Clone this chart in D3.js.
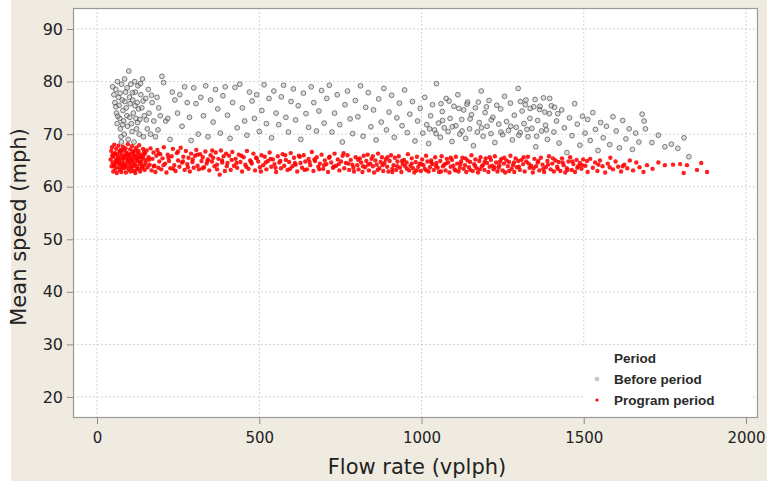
<!DOCTYPE html>
<html><head><meta charset="utf-8">
<script src="https://cdn.jsdelivr.net/npm/d3@7"></script>
<style>html,body{margin:0;padding:0;background:#fff;}svg{display:block;}</style>
</head><body>
<svg id="chart" width="776" height="481"></svg>
<script>
const xTicks = [0, 500, 1000, 1500, 2000];
const yTicks = [20, 30, 40, 50, 60, 70, 80, 90];
const seriesNames = ["Before period", "Program period"];
const legendTitle = "Period";
const xTitle = "Flow rate (vplph)";
const yTitle = "Mean speed (mph)";

// Before period: [flow, speed]
const beforePoints = [
[48,79],[52,77.5],[55,76],[58,78.5],[60,74],[62,72],[63,80],[66,77],[68,75.5],[70,73],[72,71],[74,69.5],[75,68.5],[76,79.5],[78,76.5],[80,74.5],[82,72.5],[84,70],[85,80.5],[88,78],[90,75],[92,73.5],[94,71.5],[96,69],[98,82],[100,77],[102,75.8],[104,79.5],[106,72],[108,70.5],[110,76.5],[112,74],[114,68.5],[116,80],[118,78],[120,73],[122,71],[124,76],[126,79.2],[128,74.8],[130,70],[132,72.8],[135,77.5],[138,75],[140,80.5],[143,69.5],[146,73.5],[150,76.8],[155,71],[158,78.5],[160,74],[165,70],[170,76],[175,72.5],[180,69.5],[185,77],[190,75],[195,73.5],
[58,75.2],[64,73.4],[71,77.8],[79,71.8],[86,76.2],[93,78.8],[101,73.2],[109,77.9],[117,75.4],[125,72.2],[134,79.6],[142,76.3],[152,72.7],[168,77.4],[188,70.8],
[200,81],[205,79.8],[212,72.5],[218,73],[225,69],[232,78],[240,76.5],[248,74],[255,77.5],[262,71.5],[270,79],[278,76],[285,73.2],[290,68.8],[298,78.8],[305,75.8],[312,70],[320,77],[328,73.5],[335,79.2],[342,69.5],[350,76.5],[358,72.3],[365,78.5],[372,74.8],[380,70.2],[388,77.3],[395,79],[402,73.6],[410,69.2],[418,76],[425,78.9],[432,71.2],[440,79.5],[448,75],[455,72.5],[462,69.8],[470,78],[478,76.3],[485,73],[492,77.5],[500,70.5],[508,74.5],[515,79.4],[522,72],[530,76.8],[538,69.3],[545,78.2],[552,74],[560,71.8],[568,77.1],[575,79.3],[582,73.2],[590,70.4],[598,76.2],[605,78.6],[612,72.7],[620,75.4],[628,69],[636,77.8],[644,73.9],[652,71.3],[660,79],[668,76],[676,70.6],[684,74.4],[692,78.3],[700,72.1],
[708,76.8],[716,79.3],[724,70.4],[732,74],[740,77.5],[748,71.8],[756,68.5],[764,75.6],[772,78.2],[780,72.9],[788,70.1],[796,76.4],[804,73.3],[812,79.2],[820,69.6],[828,75.1],[836,77.9],[844,71.4],[852,74.6],[860,68.9],[868,76.7],[876,72.3],[884,78.7],[892,70.8],[900,74.2],[908,77.4],[916,69.4],[924,73.1],[932,75.9],[940,71.6],[948,78.4],[956,70.3],[964,73.8],[972,76.2],[980,68.7],[988,72.5],[996,74.9],
[1004,70.2],[1010,77],[1016,71.8],[1022,68.2],[1028,73.5],[1034,75.6],[1040,70.8],[1046,79.6],[1052,72.1],[1058,69.4],[1064,74.3],[1070,71.2],[1076,76.8],[1082,70.5],[1088,73],[1094,68.6],[1100,75.3],[1106,71.6],[1112,77.5],[1118,70],[1124,72.8],[1130,74.6],[1136,69.2],[1142,76.1],[1148,71],[1154,73.7],[1160,67.8],[1166,75],[1172,70.4],[1178,72.2],[1184,78.2],[1190,69.6],[1196,74.1],[1202,71.5],[1208,76.4],[1214,70.1],[1220,73.2],[1226,68.4],[1232,75.5],[1238,71.9],[1244,74.8],[1250,69.9],[1256,77.2],[1262,72.4],[1268,70.7],[1274,75.9],[1280,68.9],[1286,73.6],[1292,71.3],[1298,78.7],[1304,70.3],[1310,74.4],[1316,72],[1322,76.5],[1328,69.5],[1334,73],[1340,71.1],[1346,75.2],[1352,67.6],[1358,72.6],[1364,74.7],[1370,70.6],[1376,76.9],[1382,71.7],[1388,69],[1394,73.9],[1400,75.4],
[1060,75.8],[1085,76.3],[1115,74.9],[1140,75.7],[1175,76.1],[1200,75.2],[1305,76.2],[1320,75.6],[1335,74.9],[1350,76.6],[1365,75.3],[1380,74.2],[1395,76.8],[1410,75.1],[1420,73.9],
[1025,71],[1045,70.1],[1065,72.6],[1095,71.4],[1125,70.6],[1150,72.9],[1185,71.2],[1215,72.7],[1245,70.4],[1275,71.5],[1300,69.8],[1325,70.9],[1355,69.6],[1385,70.8],
[1408,70.4],[1416,72.5],[1424,68.3],[1432,74.6],[1440,71.2],[1448,66.5],[1456,73.1],[1464,69.7],[1472,75.8],[1480,71.9],[1488,67.9],[1496,73.4],[1504,70.2],[1512,72.8],[1520,68.8],[1528,74.1],[1536,70.9],[1544,66.9],[1552,72.2],[1560,69.3],[1570,71.5],[1580,68],[1590,73.3],[1600,70.6],[1610,67.4],[1620,72.6],[1630,69.1],[1640,71],[1650,67.1],[1660,70.2],[1670,68.5],[1680,73.8],[1686,72.5],[1690,71],
[1710,68.4],[1730,69.8],[1750,67.6],[1770,68.1],[1790,67.3],[1809,69.3],[1824,65.7]
];

// Program period: [flow, speed]
const programPoints = [
[42,65.2],[44,66.8],[45,63.9],[46,67.5],[48,64.6],[49,66.1],[50,62.9],[51,65.7],[53,68],[54,64.2],[55,66.4],[56,63.4],[58,65],[59,67.2],[60,64.7],[61,62.6],[63,66],[64,65.4],[65,63.7],[66,67.8],[68,64.9],[69,66.6],[70,63.2],[71,65.6],[73,64.3],[74,67],[75,62.8],[76,66.2],[78,65.1],[79,63.9],[80,67.6],[81,64.5],[83,66.9],[84,63.5],[85,65.9],[86,64.1],[88,67.3],[89,62.7],[90,65.3],[91,66.5],[93,63.8],[94,64.8],[95,68.1],[96,66],[98,63.3],[99,65.5],[100,64.4],[102,67.1],[103,62.9],[104,66.3],[106,65],[107,63.6],[108,67.7],[110,64.6],[111,66.7],[113,63],[114,65.8],[115,64],[117,66.9],[118,62.6],[120,65.2],[121,67.4],[123,63.9],[124,64.9],[126,66.4],[127,63.4],[129,65.7],[130,67.9],[132,64.3],[133,62.9],[135,66.1],[137,64.7],[138,63.5],[140,65.4],[142,67.2],[144,64],[145,66.6],[147,63.2],[149,65.1],[150,64.5],
[47,65.9],[52,64],[57,66.3],[62,65.1],[67,64.4],[72,66.9],[77,63.6],[82,65.5],[87,64.2],[92,66.2],[97,64.9],[101,65.8],[105,63.9],[109,65.3],[112,66.4],[116,64.4],[119,65.9],[122,63.3],[125,65.4],[128,66.8],[131,64.8],[136,65.6],[139,63.9],[143,65.9],[148,66.3],
[153,66.9],[156,63.7],[159,65.6],[162,64.2],[165,67.3],[168,63.1],[171,65.3],[174,66.5],[177,64],[180,62.8],[183,65.9],[186,67],[189,63.6],[192,64.8],[195,66.2],[198,63.3],[202,65.4],[206,67.5],[210,64.4],[214,62.7],[218,66.1],[222,64.9],[226,63.5],[230,65.8],[234,67.2],[238,64.1],[242,63],[246,66.4],[250,65],[254,63.8],[258,67.4],[262,64.6],[266,65.7],[270,63.2],[274,66.8],[278,64.3],[282,65.5],[286,62.9],[290,66.3],[294,64.7],[298,63.6],[302,65.9],[306,67],[310,64],[314,63.3],[318,66.2],[322,64.9],[326,65.6],[330,63.7],[334,66.7],[338,64.4],[342,65.2],[346,63.1],[350,66],[354,64.8],[358,65.5],[362,63.9],[366,66.5],[370,64.2],[374,65.3],[378,62.3],[382,66.9],[386,64.6],[390,65.8],[394,63],[398,66.3],
[402,64.5],[407,65.9],[412,63.2],[417,66.6],[422,64],[427,65.3],[432,63.6],[437,66.1],[442,64.7],[447,62.9],[452,65.6],[457,64.2],[462,66.8],[467,63.4],[472,65],[477,64.4],[482,66.3],[487,63.1],[492,65.4],[497,64.8],[502,63.7],[507,66],[512,64.1],[517,65.7],[522,63.3],[527,64.9],[532,66.5],[537,63.8],[542,65.2],[547,64.3],[552,62.8],[557,65.8],[562,64.6],[567,63.5],[572,66.2],[577,64],[582,65.1],[587,63.2],[592,64.7],[597,66.4],[602,63.9],[607,65.5],[612,64.2],[617,62.9],[622,65.9],[627,64.5],[632,63.6],[637,66],[642,64.8],[647,63.3],[652,65.3],[657,64.1],[662,66.6],[667,63],[672,64.9],[677,65.6],[682,63.8],[687,64.4],[692,66.1],[697,63.4],[702,65],[707,64.3],[712,62.8],[717,65.7],[722,64.6],[727,63.6],[732,66.3],[737,64],[742,65.2],[747,63.1],[752,64.8],[757,65.9],[762,63.5],[767,64.5],[772,66],[777,63.2],[782,65.1],[787,64.2],[792,62.9],[797,65.6],
[802,64.1],[806,63.3],[810,65.4],[814,64.6],[818,62.8],[822,65.9],[826,63.7],[830,64.9],[834,66.1],[838,63.1],[842,64.4],[846,65.3],[850,63.9],[854,62.7],[858,65],[862,64.2],[866,66.3],[870,63.5],[874,64.7],[878,65.6],[882,63],[886,64.5],[890,65.2],[894,63.8],[898,62.9],[902,64.9],[906,66],[910,63.4],[914,64.1],[918,65.5],[922,63.2],[926,64.8],[930,65.8],[934,63.6],[938,62.8],[942,64.3],[946,65.1],[950,63.9],[954,64.6],[958,66.2],[962,63.1],[966,64],[970,65.4],[974,63.5],[978,62.7],[982,64.7],[986,65.7],[990,63.8],[994,64.4],[998,63],
[1002,65.2],[1006,64.1],[1010,63.4],[1014,65.9],[1018,64.8],[1022,62.9],[1026,63.7],[1030,65],[1034,64.3],[1038,63.2],[1042,65.6],[1046,64.5],[1050,63.6],[1054,62.8],[1058,64.9],[1062,65.8],[1066,63.9],[1070,64.2],[1074,63.1],[1078,65.3],[1082,64.6],[1086,62.7],[1090,63.8],[1094,65.1],[1098,64],[1102,63.3],[1106,65.7],[1110,64.4],[1114,62.9],[1118,63.6],[1122,64.8],[1126,65.5],[1130,63.4],[1134,64.1],[1138,62.8],[1142,65],[1146,63.7],[1150,64.7],[1154,66],[1158,63],[1162,64.3],[1166,65.2],[1170,63.5],[1174,62.7],[1178,64.9],[1182,65.6],[1186,63.9],[1190,64.2],[1194,63.2],[1198,65.4],[1202,64.5],[1206,62.8],[1210,63.8],[1214,65.1],[1218,64],[1222,63.3],[1226,65.8],[1230,64.6],[1234,62.9],[1238,63.6],[1242,64.8],[1246,65.3],[1250,63.1],[1254,64.4],[1258,62.7],[1262,65],[1266,63.9],[1270,64.7],[1274,65.9],[1278,63.4],[1282,64.1],[1286,62.8],[1290,65.4],[1294,63.7],[1298,64.9],
[1303,63.2],[1308,65.1],[1313,64.3],[1318,62.9],[1323,64.8],[1328,65.7],[1333,63.6],[1338,64],[1343,62.7],[1348,65.3],[1353,63.9],[1358,64.6],[1363,63.1],[1368,65.5],[1373,64.2],[1378,62.8],[1383,63.7],[1388,64.9],[1393,65.8],[1398,63.3],[1403,64.4],[1408,62.9],[1413,65],[1418,63.8],[1423,64.7],[1428,63],[1433,65.4],[1438,64.1],[1443,62.7],[1448,63.5],[1453,64.8],[1458,65.6],[1463,63.2],[1468,64.3],[1473,62.8],[1478,65.1],[1483,63.9],[1488,64.5],[1493,63.4],[1498,65.2],
[1505,64],[1512,62.8],[1520,65.3],[1528,63.6],[1535,64.6],[1542,63],[1550,65],[1558,63.9],[1566,62.7],[1574,64.4],[1582,65.5],[1590,63.3],[1598,64.8],[1606,63.8],[1615,62.9],[1625,64.2],[1634,63.5],[1642,65],[1652,63.1],[1662,64.6],[1672,63.7],[1684,62.8],[1695,64.1],
[1712,63.4],[1730,64.6],[1750,64.1],[1775,64.2],[1797,64.3],[1808,62.6],[1818,64.1],[1849,63.2],[1862,64.5],[1880,62.8],
[160,65.1],[175,63.9],[190,66.4],[205,64.1],[220,65.5],[235,63.4],[250,66.7],[265,64.8],[280,63.7],[295,65.2],[310,66.1],[325,63.5],[340,64.9],[355,66.9],[370,63.3],[385,65],[400,63.9],[415,65.1],[430,64.5],[445,65.9],[460,63.8],[475,64.7],[490,65.5],[505,62.9],[520,64.6],[535,65.3],[550,63.6],[565,64.9],[580,66],[595,63.4],[610,64.5],[625,65.7],[640,63.2],[655,64.7],[670,65.2],[685,63.3],[700,64.1],[715,65.5],[730,63.8],[745,64.3],[760,66.4],[775,64.4],[790,63.6],[805,65.1],[820,63.9],[835,64.2],[850,65.8],[865,63.2],[880,64.1],[895,65.6],[910,62.8],[925,63.9],[940,64.9],[955,63.4],[970,64.4],[985,63.1],[1000,64.3],[1015,63.1],[1030,64.6],[1045,63.9],[1060,62.9],[1075,64.4],[1090,65.5],[1105,63.1],[1120,64.3],[1135,65.4],[1150,63.2],[1165,64],[1180,63.3],[1195,64.8],[1210,65.6],[1225,63.7],[1240,64.1],[1255,65.5],[1270,63],[1285,64.6],[1300,63.8],[1315,65.6],[1330,64.4],[1345,63.5],[1360,64.9],[1375,63.4],[1390,64.2],[1405,65.4],[1420,63.4],[1435,64.6],[1450,63.2],[1465,64.8],[1480,63.6],[1495,64.1],[1510,64.9],[1545,64.2],[1580,63.7],[1620,63.9]
];

const svg = d3.select("#chart");
const plot = {left: 73, top: 8, right: 758, bottom: 418};

svg.append("rect").attr("x", 11).attr("y", 0).attr("width", 756).attr("height", 481).attr("fill", "#efebe1");
svg.append("rect").attr("x", plot.left).attr("y", plot.top)
  .attr("width", plot.right - plot.left).attr("height", plot.bottom - plot.top).attr("fill", "#fff");

const x = d3.scaleLinear().domain([-74, 2037]).range([plot.left, plot.right]);
const y = d3.scaleLinear().domain([16, 94]).range([plot.bottom, plot.top]);

// grid
const grid = svg.append("g");
grid.selectAll("line.vx").data(xTicks).join("line")
  .attr("x1", d => x(d)).attr("x2", d => x(d)).attr("y1", plot.top).attr("y2", plot.bottom)
  .attr("stroke", "#d4d4d4").attr("stroke-width", 1).attr("stroke-dasharray", "2,2");
grid.selectAll("line.hy").data(yTicks).join("line")
  .attr("y1", d => y(d)).attr("y2", d => y(d)).attr("x1", plot.left).attr("x2", plot.right)
  .attr("stroke", "#d4d4d4").attr("stroke-width", 1).attr("stroke-dasharray", "2,2");

// points
svg.append("g").selectAll("circle").data(beforePoints).join("circle")
  .attr("cx", d => x(d[0])).attr("cy", d => y(d[1])).attr("r", 2.4)
  .attr("fill", "rgba(165,165,165,0.4)").attr("stroke", "rgba(70,70,70,0.75)").attr("stroke-width", 0.9);
svg.append("g").selectAll("circle").data(programPoints).join("circle")
  .attr("cx", d => x(d[0])).attr("cy", d => y(d[1])).attr("r", 2.2)
  .attr("fill", "#ff0000").attr("fill-opacity", 0.88);

// legend box
const lg = svg.append("g");
lg.append("rect").attr("x", 583).attr("y", 347).attr("width", 168).attr("height", 70).attr("fill", "#fff");
lg.append("text").attr("x", 614).attr("y", 363).text(legendTitle)
  .attr("font-family", "Liberation Sans, Arial, sans-serif").attr("font-weight", "bold").attr("font-size", 13.5).attr("fill", "#2a2a2a");
const lgColors = [{fill: "rgba(175,175,175,0.6)", stroke: "rgba(110,110,110,0.6)"}, {fill: "#ff0000", stroke: "none"}];
seriesNames.forEach((name, i) => {
  const cy = 379 + i * 21;
  lg.append("circle").attr("cx", 597).attr("cy", cy).attr("r", i === 0 ? 1.8 : 1.6)
    .attr("fill", lgColors[i].fill).attr("stroke", lgColors[i].stroke).attr("stroke-width", 0.6);
  lg.append("text").attr("x", 614).attr("y", cy + 5).text(name)
    .attr("font-family", "Liberation Sans, Arial, sans-serif").attr("font-weight", "bold").attr("font-size", 13.5).attr("fill", "#2a2a2a");
});

// frame
svg.append("rect").attr("x", plot.left + 0.5).attr("y", plot.top + 0.5)
  .attr("width", plot.right - plot.left - 1).attr("height", plot.bottom - plot.top - 1)
  .attr("fill", "none").attr("stroke", "#9a9a9a").attr("stroke-width", 1.2);

// axes
const xAxis = d3.axisBottom(x).tickValues(xTicks).tickFormat(d3.format("d")).tickSize(6).tickPadding(8).tickSizeOuter(0);
const gx = svg.append("g").attr("transform", `translate(0,${plot.bottom})`).call(xAxis);
gx.select(".domain").remove();
gx.selectAll(".tick line").attr("stroke", "#8a8a8a");
gx.selectAll(".tick text").attr("font-family", "DejaVu Sans, sans-serif").attr("font-size", 15).attr("fill", "#222");

const yAxis = d3.axisLeft(y).tickValues(yTicks).tickFormat(d3.format("d")).tickSize(6).tickPadding(4).tickSizeOuter(0);
const gy = svg.append("g").attr("transform", `translate(${plot.left},0)`).call(yAxis);
gy.select(".domain").remove();
gy.selectAll(".tick line").attr("stroke", "#8a8a8a");
gy.selectAll(".tick text").attr("font-family", "DejaVu Sans, sans-serif").attr("font-size", 16).attr("fill", "#222");

// titles
svg.append("text").attr("x", 417).attr("y", 474).attr("text-anchor", "middle").text(xTitle)
  .attr("font-family", "DejaVu Sans, sans-serif").attr("font-size", 21).attr("fill", "#222");
svg.append("text").attr("transform", "translate(26,227) rotate(-90)").attr("text-anchor", "middle").text(yTitle)
  .attr("font-family", "DejaVu Sans, sans-serif").attr("font-size", 21).attr("fill", "#222");
</script>
</body></html>
